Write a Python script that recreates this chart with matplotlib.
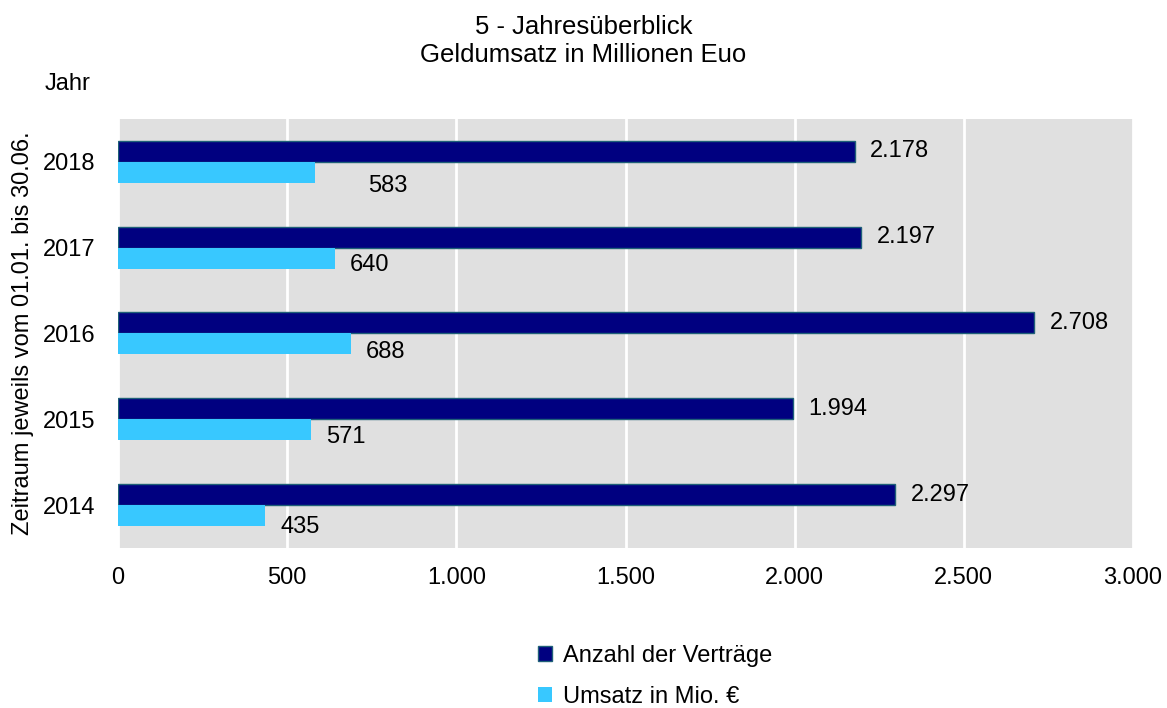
import numpy as np
import matplotlib.pyplot as plt
from matplotlib.ticker import FuncFormatter

plt.rcParams['font.family'] = ['Liberation Sans', 'DejaVu Sans']

# Data
years = ['2014', '2015', '2016', '2017', '2018']
vertraege = [2297, 1994, 2708, 2197, 2178]
umsatz = [435, 571, 688, 640, 583]

DARK = '#000080'
LIGHT = '#38C8FF'
FS = 17

fig = plt.figure(figsize=(11.67, 7.08), dpi=100)
ax = fig.add_axes([0.1011, 0.226, 0.8698, 0.606])

y = np.arange(len(years))
h = 0.245
ax.barh(y + h / 2, vertraege, height=h, color=DARK, edgecolor='#1f6078', linewidth=1, zorder=3,
        label='Anzahl der Verträge')
ax.barh(y - h / 2, umsatz, height=h, color=LIGHT, zorder=3, label='Umsatz in Mio. €')

def de(v):
    return f'{v:,.0f}'.replace(',', '.')

for yi, v in zip(y, vertraege):
    ax.annotate(de(v), (v, yi + h / 2), xytext=(11, 0), textcoords='offset points',
                ha='left', va='center', fontsize=FS)

# label offsets for the light bars (points), as placed in the original
light_off = [(11, -8), (11, -5), (11, -6), (11, -5), (38, -10)]
for yi, v, off in zip(y, umsatz, light_off):
    ax.annotate(de(v), (v, yi - h / 2), xytext=off, textcoords='offset points',
                ha='left', va='center', fontsize=FS)

ax.set_xlim(0, 3000)
ax.set_ylim(-0.5, len(years) - 0.5)
ax.set_facecolor('#e0e0e0')
ax.set_xticks(np.arange(0, 3001, 500))
ax.xaxis.set_major_formatter(FuncFormatter(lambda v, p: de(v)))
ax.set_yticks(y)
ax.set_yticklabels(years)
ax.tick_params(length=0, labelsize=FS)
ax.tick_params(axis='x', pad=14)
ax.tick_params(axis='y', pad=16)
ax.grid(axis='x', color='white', linewidth=2, zorder=0)
ax.set_axisbelow(True)
for s in ax.spines.values():
    s.set_visible(False)

ax.set_ylabel('Zeitraum jeweils vom 01.01. bis 30.06.', fontsize=17)
ax.yaxis.set_label_coords(-0.0825, 0.5)

fig.text(0.5, 0.962, '5 - Jahresüberblick', ha='center', va='center', fontsize=18.5)
fig.text(0.5, 0.923, 'Geldumsatz in Millionen Euo', ha='center', va='center', fontsize=18.5)
fig.text(0.058, 0.882, 'Jahr', ha='center', va='center', fontsize=FS)

handles, labels = ax.get_legend_handles_labels()
fig.legend(handles, labels, loc='center left', bbox_to_anchor=(0.4426, 0.0445),
           frameon=False, fontsize=FS, handlelength=0.6, handleheight=0.6,
           handletextpad=0.47, labelspacing=0.8)

fig.savefig('out.png', dpi=100)
